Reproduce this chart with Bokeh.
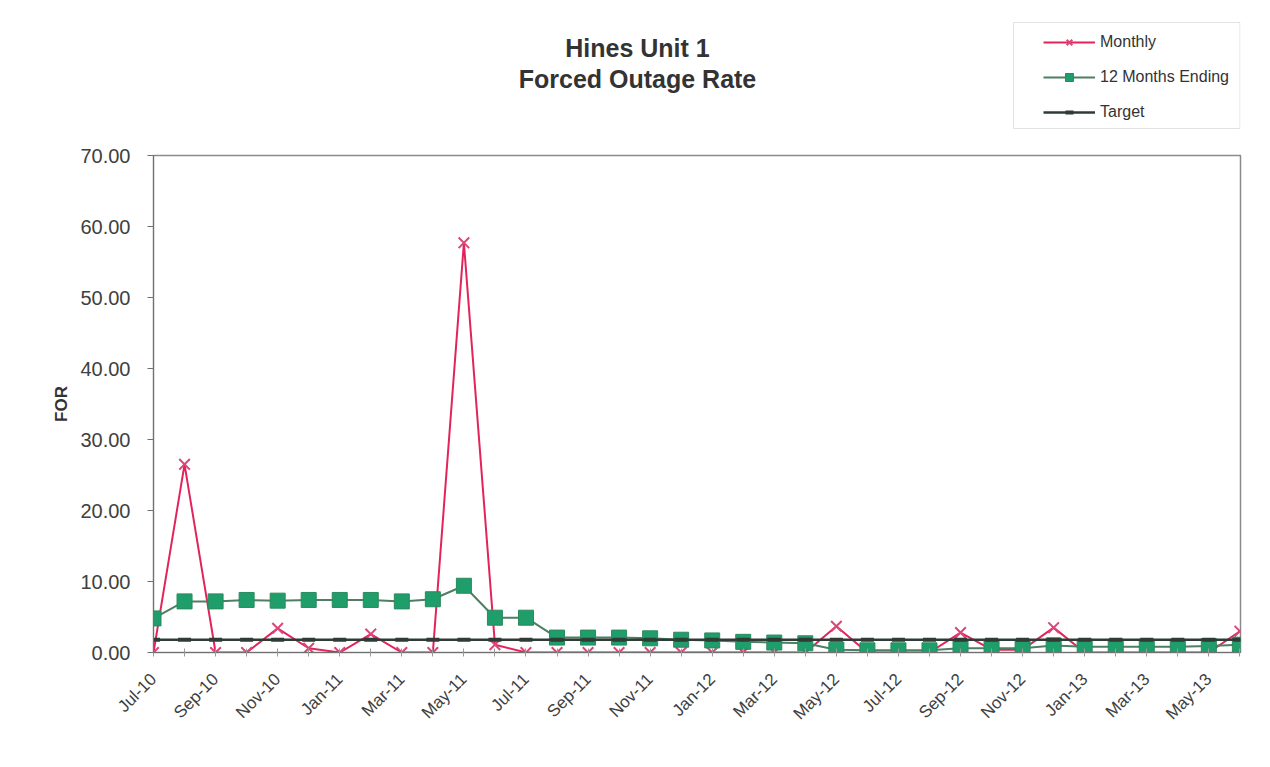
import math
from bokeh.plotting import figure
from bokeh.layouts import column
from bokeh.models import (Range1d, FixedTicker, Legend, LegendItem, Label,
                          NumeralTickFormatter, BoxAnnotation)
from bokeh.embed import file_html
from bokeh.resources import INLINE

# ---- data -------------------------------------------------------------
months = ["Jul-10", "Aug-10", "Sep-10", "Oct-10", "Nov-10", "Dec-10",
          "Jan-11", "Feb-11", "Mar-11", "Apr-11", "May-11", "Jun-11",
          "Jul-11", "Aug-11", "Sep-11", "Oct-11", "Nov-11", "Dec-11",
          "Jan-12", "Feb-12", "Mar-12", "Apr-12", "May-12", "Jun-12",
          "Jul-12", "Aug-12", "Sep-12", "Oct-12", "Nov-12", "Dec-12",
          "Jan-13", "Feb-13", "Mar-13", "Apr-13", "May-13", "Jun-13"]
monthly = [0.0, 26.5, 0.0, 0.0, 3.4, 0.6, 0.0, 2.6, 0.0, 0.0, 57.7, 1.1,
           0.0, 0.0, 0.0, 0.0, 0.0, 0.0, 0.0, 0.0, 0.0, 0.0, 3.7, 0.0,
           0.0, 0.0, 2.8, 0.4, 0.4, 3.5, 0.0, 0.0, 0.0, 0.0, 0.0, 3.0]
twelve_months = [4.8, 7.2, 7.2, 7.4, 7.3, 7.4, 7.4, 7.4, 7.2, 7.5, 9.4, 4.9,
                 4.9, 2.1, 2.1, 2.1, 2.0, 1.8, 1.7, 1.5, 1.4, 1.3, 0.4, 0.3,
                 0.3, 0.3, 0.6, 0.6, 0.6, 1.0, 0.8, 0.8, 0.8, 0.8, 0.9, 1.1]
target = [1.8] * 36
y_ticks = [0, 10, 20, 30, 40, 50, 60, 70]
series_names = ["Monthly", "12 Months Ending", "Target"]
title_lines = ["Hines Unit 1", "Forced Outage Rate"]

x = list(range(len(months)))

FONT = "Liberation Sans"
C_MONTH_LINE = "#E3245B"
C_MONTH_MARK = "#D9477A"
C_12_LINE = "#4F7E63"
C_12_FILL = "#1F9E6B"
C_12_EDGE = "#2A8A5E"
C_TARGET = "#2F3B35"

W = 1262
TOP_H = 143
MAIN_H = 759 - TOP_H
BORDER_L = 153
BORDER_R = 22
FRAME_W = W - BORDER_L - BORDER_R


def style_series(fig, xs, m, t, g, **kw):
    r = {}
    r["m_line"] = fig.line(xs, m, line_color=C_MONTH_LINE, line_width=2, **kw)
    r["m_pts"] = fig.scatter(xs, m, marker="x", size=15,
                             line_color=C_MONTH_MARK, line_width=2, **kw)
    r["t_line"] = fig.line(xs, t, line_color=C_12_LINE, line_width=2, **kw)
    r["t_pts"] = fig.scatter(xs, t, marker="square", size=15,
                             fill_color=C_12_FILL, line_color=C_12_EDGE,
                             line_width=1, **kw)
    r["g_line"] = fig.line(xs, g, line_color=C_TARGET, line_width=2.5, **kw)
    r["g_pts"] = fig.scatter(xs, g, marker="dash", size=13,
                             line_color=C_TARGET, line_width=4, **kw)
    return r


# ---- header (title + legend); its frame is aligned with the chart's ----
top = figure(width=W, height=TOP_H, output_backend="svg", toolbar_location=None,
             x_range=Range1d(0, FRAME_W), y_range=Range1d(0, TOP_H),
             x_axis_location=None, y_axis_location=None, title=None,
             min_border_left=BORDER_L, min_border_right=BORDER_R,
             min_border_top=0, min_border_bottom=0,
             background_fill_color="white", border_fill_color="white")
top.xgrid.visible = False
top.ygrid.visible = False
top.outline_line_color = None
# the series are also drawn here, on a range that keeps them out of view,
# so that the legend has renderers to sample its glyphs from
top.extra_x_ranges = {"offscreen": Range1d(1000, 1035)}

for txt, yv in zip(title_lines, (96, 65)):
    top.add_layout(Label(x=484, y=yv, text=txt, text_align="center",
                         text_baseline="middle", text_font=FONT,
                         text_font_style="bold", text_font_size="25px",
                         text_color="#333333"))

leg_r = style_series(top, x, monthly, twelve_months, target,
                     x_range_name="offscreen")
top.add_layout(BoxAnnotation(left=860, right=FRAME_W - 0.5, bottom=15, top=121,
                             fill_color=None, fill_alpha=0,
                             line_color="#a0a0a0", line_width=1))
legend = Legend(items=[
    LegendItem(label=series_names[0], renderers=[leg_r["m_line"], leg_r["m_pts"]]),
    LegendItem(label=series_names[1], renderers=[leg_r["t_line"], leg_r["t_pts"]]),
    LegendItem(label=series_names[2], renderers=[leg_r["g_line"], leg_r["g_pts"]]),
], location=(890, 21))
legend.glyph_width = 52
legend.glyph_height = 20
legend.label_height = 20
legend.label_standoff = 5
legend.spacing = 15
legend.padding = 10
legend.label_text_font = FONT
legend.label_text_font_size = "16px"
legend.label_text_color = "#333333"
legend.border_line_color = None
legend.background_fill_alpha = 0
top.add_layout(legend)

# ---- main chart -------------------------------------------------------
p = figure(width=W, height=MAIN_H, output_backend="svg", toolbar_location=None,
           x_range=Range1d(0, 35.02), y_range=Range1d(0, 70), title=None,
           min_border_left=BORDER_L, min_border_right=BORDER_R,
           min_border_top=12, min_border_bottom=107,
           background_fill_color="white", border_fill_color="white")
p.xgrid.visible = False
p.ygrid.visible = False
p.outline_line_color = "#8a8a8a"
p.outline_line_width = 1.5

style_series(p, x, monthly, twelve_months, target)

p.yaxis.ticker = FixedTicker(ticks=y_ticks)
p.yaxis.formatter = NumeralTickFormatter(format="0.00")
p.yaxis.major_label_text_font = FONT
p.yaxis.major_label_text_font_size = "20px"
p.yaxis.major_label_text_color = "#404040"
p.yaxis.major_label_standoff = 17
p.yaxis.major_tick_out = 6
p.yaxis.major_tick_in = 0
p.yaxis.minor_tick_line_color = None
p.yaxis.axis_line_color = "#707070"
p.yaxis.major_tick_line_color = "#707070"
p.yaxis.axis_label = "FOR"
p.yaxis.axis_label_text_font = FONT
p.yaxis.axis_label_text_font_style = "bold"
p.yaxis.axis_label_text_font_size = "17px"
p.yaxis.axis_label_text_color = "#333333"
p.yaxis.axis_label_standoff = 6

p.xaxis.ticker = FixedTicker(ticks=x)
p.xaxis.major_label_overrides = {i: (m if i % 2 == 0 else "") for i, m in enumerate(months)}
p.xaxis.major_label_orientation = math.pi / 4
p.xaxis.major_label_text_font = FONT
p.xaxis.major_label_text_font_size = "17px"
p.xaxis.major_label_text_color = "#404040"
p.xaxis.major_label_standoff = 20
p.xaxis.major_tick_out = 4
p.xaxis.major_tick_in = 4
p.xaxis.minor_tick_line_color = None
p.xaxis.axis_line_color = "#707070"
p.xaxis.major_tick_line_color = "#9a9a9a"

layout = column(top, p, spacing=0)
open("out.html", "w").write(file_html(layout, INLINE))
